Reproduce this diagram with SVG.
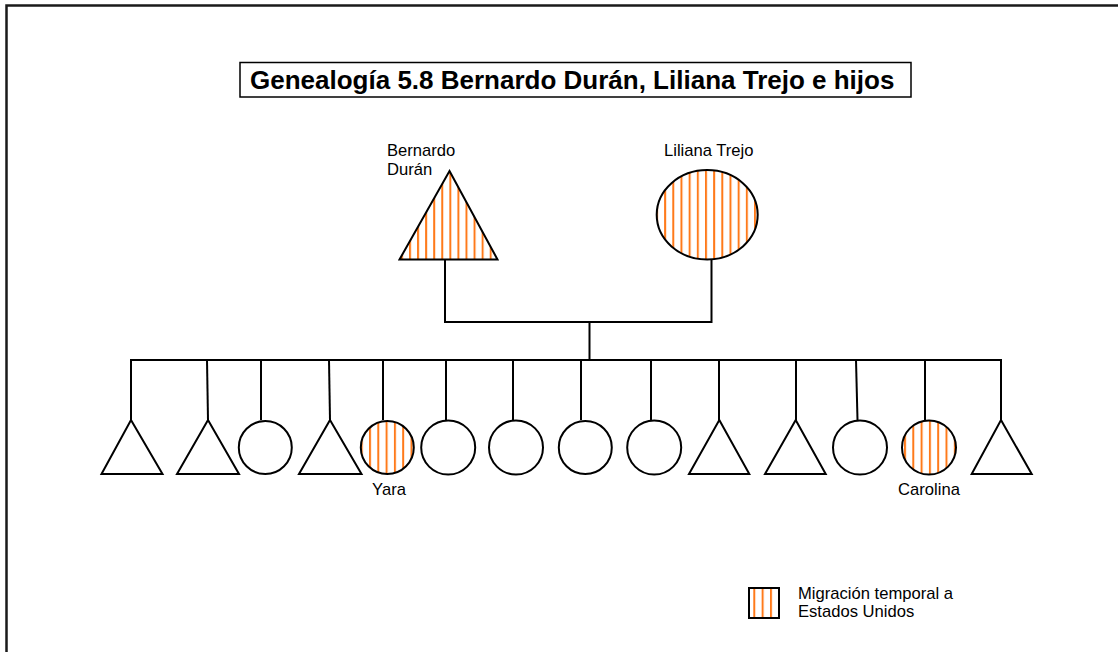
<svg xmlns="http://www.w3.org/2000/svg" width="1118" height="652" viewBox="0 0 1118 652">
  <style>
    .ln { fill: none; stroke: #000; stroke-width: 2; stroke-linejoin: miter; }
    .sym { stroke: #000; stroke-width: 2; }
    .plain { fill: #fff; }
    .lbl { font-family: "Liberation Sans", Arial, sans-serif; font-size: 16.6px; fill: #000; }
    .ttl { font-family: "Liberation Sans", Arial, sans-serif; font-size: 26px; font-weight: bold; fill: #000; }
  </style>
  <defs>
    <!-- vertical orange hatching for "temporary migration" -->
    <pattern id="hatchB" patternUnits="userSpaceOnUse" x="409" y="0" width="8.07" height="10">
      <rect width="8.07" height="10" fill="#fff"/>
      <rect x="0" width="2" height="10" fill="#ff7a1a"/>
    </pattern>
    <pattern id="hatchL" patternUnits="userSpaceOnUse" x="672.3" y="0" width="8.17" height="10">
      <rect width="8.17" height="10" fill="#fff"/>
      <rect x="0" width="2" height="10" fill="#ff7a1a"/>
    </pattern>
    <pattern id="hatchY" patternUnits="userSpaceOnUse" x="369" y="0" width="8.3" height="10">
      <rect width="8.3" height="10" fill="#fff"/>
      <rect x="0" width="2" height="10" fill="#ff7a1a"/>
    </pattern>
    <pattern id="hatchC" patternUnits="userSpaceOnUse" x="912.3" y="0" width="8.3" height="10">
      <rect width="8.3" height="10" fill="#fff"/>
      <rect x="0" width="2" height="10" fill="#ff7a1a"/>
    </pattern>
    <pattern id="hatchK" patternUnits="userSpaceOnUse" x="753.3" y="0" width="8.33" height="10">
      <rect width="8.33" height="10" fill="#fff"/>
      <rect x="0" width="2" height="10" fill="#ff7a1a"/>
    </pattern>
  </defs>

  <rect width="1118" height="652" fill="#fff"/>

  <!-- page frame -->
  <path d="M6.5,652 V5.5 H1118" fill="none" stroke="#1a1a1a" stroke-width="2.5"/>

  <!-- title -->
  <g id="title">
    <rect x="240" y="62.5" width="671" height="34.5" fill="#fff" stroke="#000" stroke-width="1.5"/>
    <text class="ttl" x="250" y="88.5">Genealogía 5.8 Bernardo Durán, Liliana Trejo e hijos</text>
  </g>

  <!-- connectors -->
  <g id="connectors" class="ln">
    <polyline points="445,259 445,322 711.5,322 711.5,259"/>
    <line x1="589.5" y1="322" x2="589.5" y2="360"/>
    <line x1="130" y1="360" x2="1002" y2="360"/>
    <line x1="131" y1="360" x2="131" y2="420"/>
    <line x1="207" y1="360" x2="208" y2="420"/>
    <line x1="261" y1="360" x2="261" y2="420"/>
    <line x1="329" y1="360" x2="330" y2="420"/>
    <line x1="383" y1="360" x2="383" y2="420"/>
    <line x1="446" y1="360" x2="446" y2="420"/>
    <line x1="513" y1="360" x2="513" y2="420"/>
    <line x1="581" y1="360" x2="581" y2="420"/>
    <line x1="651" y1="360" x2="651" y2="420"/>
    <line x1="719" y1="360" x2="719" y2="420"/>
    <line x1="796" y1="360" x2="796" y2="420"/>
    <line x1="856" y1="360" x2="857.5" y2="420"/>
    <line x1="925" y1="360" x2="925" y2="420"/>
    <line x1="1001" y1="360" x2="1001" y2="420"/>
  </g>

  <!-- parents -->
  <g id="bernardo">
    <polygon class="sym" points="449.5,171 497.5,259.5 399.5,259.5" fill="url(#hatchB)"/>
    <text class="lbl" x="387" y="156">Bernardo</text>
    <text class="lbl" x="387" y="175">Durán</text>
  </g>
  <g id="liliana">
    <ellipse class="sym" cx="707.2" cy="214.8" rx="50.5" ry="44.7" fill="url(#hatchL)"/>
    <text class="lbl" x="664" y="156">Liliana Trejo</text>
  </g>

  <!-- children -->
  <g id="child1"><polygon class="sym plain" points="131,420 162.5,474 101.5,474"/></g>
  <g id="child2"><polygon class="sym plain" points="208,420 239,474 177,474"/></g>
  <g id="child3"><circle class="sym plain" cx="265.3" cy="447.5" r="26.5"/></g>
  <g id="child4"><polygon class="sym plain" points="330,420 361.5,474 299,474"/></g>
  <g id="yara">
    <circle class="sym" cx="387.3" cy="447.5" r="26.5" fill="url(#hatchY)"/>
    <text class="lbl" x="389" y="495" text-anchor="middle">Yara</text>
  </g>
  <g id="child6"><circle class="sym plain" cx="448.2" cy="447.5" r="27"/></g>
  <g id="child7"><circle class="sym plain" cx="516" cy="447.5" r="27"/></g>
  <g id="child8"><circle class="sym plain" cx="585.3" cy="447.5" r="26.5"/></g>
  <g id="child9"><circle class="sym plain" cx="654.2" cy="447.5" r="27"/></g>
  <g id="child10"><polygon class="sym plain" points="719.3,420 749.3,474 689,474"/></g>
  <g id="child11"><polygon class="sym plain" points="795.7,420 825.7,474 765,474"/></g>
  <g id="child12"><circle class="sym plain" cx="860" cy="447.5" r="27"/></g>
  <g id="carolina">
    <circle class="sym" cx="929" cy="447.5" r="27" fill="url(#hatchC)"/>
    <text class="lbl" x="929" y="495" text-anchor="middle">Carolina</text>
  </g>
  <g id="child14"><polygon class="sym plain" points="1001,420 1031.7,474 971.7,474"/></g>

  <!-- legend -->
  <g id="legend">
    <rect class="sym" x="749" y="588" width="30" height="30" fill="url(#hatchK)"/>
    <text class="lbl" x="798" y="598.5">Migración temporal a</text>
    <text class="lbl" x="798" y="617">Estados Unidos</text>
  </g>
</svg>
